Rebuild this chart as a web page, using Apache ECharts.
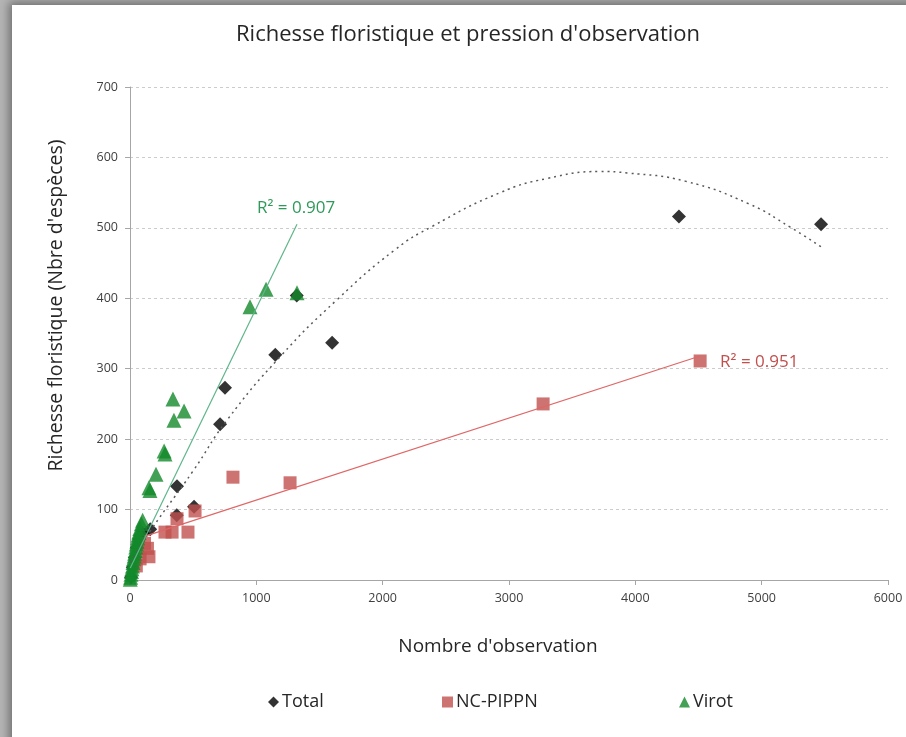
<!DOCTYPE html>
<html><head><meta charset="utf-8">
<script src="https://cdn.jsdelivr.net/npm/echarts@6/dist/echarts.min.js"></script>
<style>
html,body{margin:0;padding:0;width:906px;height:737px;overflow:hidden;background:#b5b5b5;}
#panel{position:absolute;left:12px;top:5px;width:1000px;height:1000px;background:#fff;box-shadow:0 0 9px 3px rgba(0,0,0,0.4);}
#chart{position:absolute;left:0;top:0;width:906px;height:737px;}
</style></head><body><div id="panel"></div><div id="chart"></div>
<script>
// ---- data ----
const xTicks = [0, 1000, 2000, 3000, 4000, 5000, 6000];
const yTicks = [0, 100, 200, 300, 400, 500, 600, 700];

const totalData = [
  [5470, 505], [4345, 516], [1600, 337], [1150, 320], [752, 273], [713, 221],
  [372, 133], [507, 104], [370, 92], [160, 72], [1320, 404],
  [8, 4], [22, 18], [38, 32], [55, 46], [75, 58], [100, 66]
];
const nciData = [
  [4513, 311], [3270, 250], [815, 146], [1267, 138], [515, 98], [372, 87],
  [459, 68], [333, 68], [277, 68], [150, 33], [138, 45], [115, 52],
  [50, 20], [80, 30]
];
const virotData = [
  [1322, 408], [1077, 413], [950, 388], [340, 257], [428, 240], [348, 227],
  [277, 179], [270, 183], [206, 150], [158, 127], [150, 131],
  [2, 1], [5, 4], [8, 8], [12, 12], [15, 16], [20, 20], [24, 25], [28, 30],
  [33, 34], [37, 38], [42, 42], [46, 47], [50, 51], [55, 55], [60, 60],
  [64, 64], [70, 68], [78, 73], [90, 80], [100, 85]
];
// trend lines
const totalTrend = [
  [5, 25], [158, 69], [500, 155], [768, 227], [1188, 317], [1639, 398],
  [2098, 469], [2391, 502], [2930, 550], [3300, 570], [3721, 580],
  [3935, 578], [4400, 566], [4900, 534], [5226, 501], [5479, 472]
];
const nciTrend = [[115, 62], [4513, 318]];
const virotTrend = [[2, 17], [1322, 505]];
const r2Labels = [
  { text: 'R² = 0.907', at: [1005, 528], color: '#2e9a5a' },
  { text: 'R² = 0.951', at: [4671, 310], color: '#c0504d' }
];

const FONT = 'Open Sans';
const chart = echarts.init(document.getElementById('chart'));
const legendBase = {
  orient: 'horizontal', top: 693, padding: 0, itemWidth: 11, itemHeight: 11, itemGap: 4,
  textStyle: { fontFamily: FONT, fontSize: 18, color: '#262626', padding: [0, 0, 0, -2] }
};
chart.setOption({
  animation: false,
  backgroundColor: 'transparent',
  title: {
    text: 'Richesse floristique et pression d\'observation',
    left: 463, textAlign: 'center', top: 19,
    textStyle: { fontFamily: FONT, fontSize: 22, fontWeight: 'normal', color: '#262626' }
  },
  legend: [
    Object.assign({}, legendBase, { left: 268, data: [{ name: 'Total', icon: 'diamond' }] }),
    Object.assign({}, legendBase, { left: 442, data: [{ name: 'NC-PIPPN', icon: 'rect' }] }),
    Object.assign({}, legendBase, { left: 679, data: [{ name: 'Virot', icon: 'triangle' }] })
  ],
  grid: { left: 130, right: 18, top: 87, bottom: 157, containLabel: false },
  xAxis: {
    type: 'value', min: xTicks[0], max: xTicks[xTicks.length - 1], interval: 1000,
    name: 'Nombre d\'observation', nameLocation: 'middle', nameGap: 57,
    nameTextStyle: { fontFamily: FONT, fontSize: 19, color: '#262626', padding: [0, 22, 0, 0] },
    axisLine: { show: true, lineStyle: { color: '#a6a6a6' } },
    axisTick: { show: true, length: 5, lineStyle: { color: '#a6a6a6' } },
    axisLabel: { fontFamily: FONT, fontSize: 12.5, color: '#404040', margin: 12, formatter: v => String(v) },
    splitLine: { show: false }
  },
  yAxis: {
    type: 'value', min: yTicks[0], max: yTicks[yTicks.length - 1], interval: 100,
    name: 'Richesse floristique (Nbre d\'espèces)', nameLocation: 'middle', nameGap: 64, nameRotate: 90,
    nameTextStyle: { fontFamily: FONT, fontSize: 19.5, color: '#262626', padding: [0, 0, 0, 56] },
    axisLine: { show: true, lineStyle: { color: '#a6a6a6' } },
    axisTick: { show: true, length: 5, lineStyle: { color: '#a6a6a6' } },
    axisLabel: { fontFamily: FONT, fontSize: 12.5, color: '#404040', margin: 12, formatter: v => String(v) },
    splitLine: { show: true, lineStyle: { color: '#cccccc', type: [3, 3] } }
  },
  series: [
    { name: 'Total', type: 'scatter', data: totalData, symbol: 'diamond', symbolSize: 14,
      itemStyle: { color: '#000' }, z: 2 },
    { name: 'NC-PIPPN', type: 'scatter', data: nciData, symbol: 'rect', symbolSize: 13,
      itemStyle: { color: '#c0504d' }, z: 3 },
    { name: 'Virot', type: 'scatter', data: virotData, symbol: 'triangle', symbolSize: 15,
      itemStyle: { color: '#13892a' }, z: 4 },
    { name: 'trendTotal', type: 'line', data: totalTrend, smooth: true, symbol: 'none', silent: true,
      lineStyle: { color: '#595959', width: 1.5, type: [2, 4] }, z: 5 },
    { name: 'trendNC', type: 'line', data: nciTrend, symbol: 'none', silent: true,
      lineStyle: { color: '#e06666', width: 1.2 }, z: 5 },
    { name: 'trendVirot', type: 'line', data: virotTrend, symbol: 'none', silent: true,
      lineStyle: { color: '#5fb58a', width: 1.2 }, z: 5 }
  ]
});
const g = r2Labels.map(l => {
  const p = chart.convertToPixel({ xAxisIndex: 0, yAxisIndex: 0 }, l.at);
  return { type: 'text', x: p[0], y: p[1], z: 10,
    style: { text: l.text, fill: l.color, font: '17px "' + FONT + '"', verticalAlign: 'middle' } };
});
chart.setOption({ graphic: g });
</script></body></html>
